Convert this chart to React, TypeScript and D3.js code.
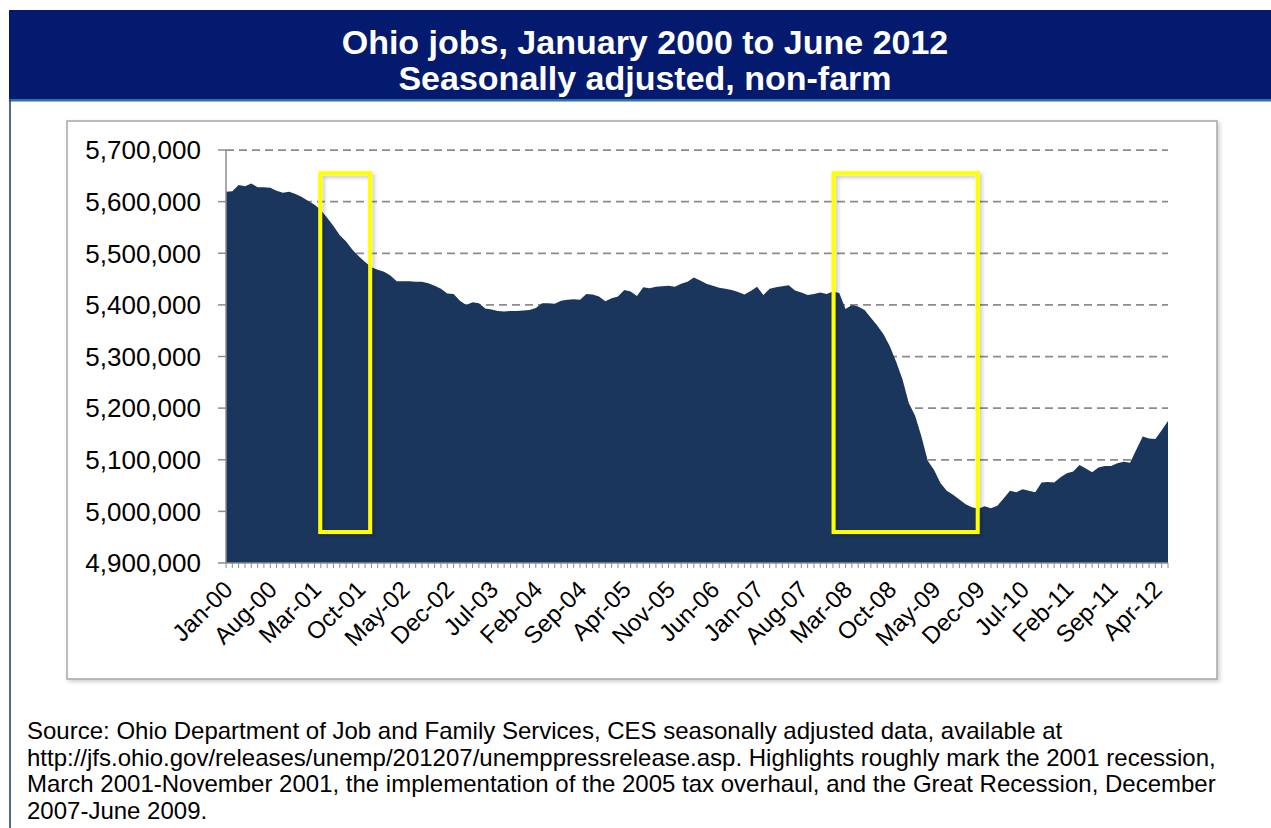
import React from "react";
import * as d3 from "d3";

const jobs: number[] = [
  5619000, 5620000, 5632000, 5630000, 5635000, 5628000, 5628000, 5627000, 5621000, 5617000,
  5619000, 5615000, 5609000, 5601000, 5594000, 5584000, 5569000, 5553000, 5535000, 5523000,
  5507000, 5494000, 5483000, 5473000, 5468000, 5464000, 5457000, 5446000, 5446000, 5446000,
  5445000, 5445000, 5442000, 5437000, 5431000, 5422000, 5421000, 5408000, 5400000, 5405000,
  5403000, 5393000, 5391000, 5388000, 5387000, 5388000, 5388000, 5389000, 5390000, 5394000,
  5403000, 5403000, 5402000, 5408000, 5410000, 5411000, 5410000, 5421000, 5420000, 5416000,
  5407000, 5413000, 5416000, 5429000, 5426000, 5417000, 5434000, 5432000, 5435000, 5436000,
  5437000, 5435000, 5441000, 5445000, 5453000, 5447000, 5441000, 5437000, 5433000, 5431000,
  5429000, 5425000, 5420000, 5427000, 5435000, 5419000, 5431000, 5434000, 5436000, 5438000,
  5428000, 5424000, 5419000, 5421000, 5424000, 5421000, 5426000, 5423000, 5392000, 5400000,
  5397000, 5390000, 5375000, 5360000, 5343000, 5320000, 5290000, 5256000, 5210000, 5185000,
  5145000, 5098000, 5080000, 5055000, 5040000, 5032000, 5023000, 5014000, 5008000, 5005000,
  5010000, 5006000, 5011000, 5025000, 5040000, 5037000, 5043000, 5040000, 5037000, 5056000,
  5057000, 5056000, 5066000, 5074000, 5077000, 5090000, 5083000, 5076000, 5085000, 5088000,
  5088000, 5093000, 5096000, 5094000, 5120000, 5145000, 5141000, 5140000, 5157000, 5175000,
];

const xTickLabels: string[] = [
  "Jan-00", "Aug-00", "Mar-01", "Oct-01", "May-02", "Dec-02", "Jul-03", "Feb-04",
  "Sep-04", "Apr-05", "Nov-05", "Jun-06", "Jan-07", "Aug-07", "Mar-08", "Oct-08",
  "May-09", "Dec-09", "Jul-10", "Feb-11", "Sep-11", "Apr-12",
];
const labelStep = 7;

const yTicks: number[] = [4900000, 5000000, 5100000, 5200000, 5300000, 5400000, 5500000, 5600000, 5700000];

// highlight spans in month index (0 = Jan-00)
const highlightBoxes: [number, number][] = [
  [14.9, 22.8],
  [96.1, 118.9],
];
const highlightLines: number[] = [68.2];
const highlightRange: [number, number] = [4960000, 5655000];

const titleLines: string[] = ["Ohio jobs, January 2000 to June 2012", "Seasonally adjusted, non-farm"];
const sourceLines: string[] = [
  "Source: Ohio Department of Job and Family Services, CES seasonally adjusted data, available at",
  "http://jfs.ohio.gov/releases/unemp/201207/unemppressrelease.asp. Highlights roughly mark the 2001 recession,",
  "March 2001-November 2001, the implementation of the 2005 tax overhaul, and the Great Recession, December",
  "2007-June 2009.",
];

const W = 1271;
const H = 828;
const plotLeft = 226;
const plotRight = 1168;
const plotTop = 150;
const plotBottom = 563;

export default function App() {
  const x = d3.scaleLinear().domain([0, jobs.length - 1]).range([plotLeft, plotRight]);
  const y = d3.scaleLinear().domain([4900000, 5700000]).range([plotBottom, plotTop]);
  const fmt = d3.format(",");

  const area = d3
    .area<number>()
    .x((_, i) => x(i))
    .y0(plotBottom)
    .y1((d) => y(d));

  const font = "Arial, 'Liberation Sans', Helvetica, sans-serif";

  return (
    <svg
      width={W}
      height={H}
      style={{ position: "absolute", left: 0, top: 0, background: "#fff" }}
      fontFamily={font}
    >
      <defs>
        <filter id="ysh" x="-20%" y="-20%" width="140%" height="140%">
          <feDropShadow dx="2" dy="2" stdDeviation="2" floodColor="#000" floodOpacity="0.25" />
        </filter>
        <filter id="boxsh" x="-5%" y="-5%" width="110%" height="110%">
          <feDropShadow dx="2" dy="2" stdDeviation="2" floodColor="#000" floodOpacity="0.2" />
        </filter>
      </defs>

      {/* Banner */}
      <rect x={9} y={10} width={W - 9} height={89} fill="#041a6e" />
      <rect x={9} y={99} width={W - 9} height={2.5} fill="#2f6fb0" />
      <line x1={10} x2={10} y1={100} y2={H} stroke="#1a2f7a" strokeWidth={1.5} />
      {titleLines.map((t, i) => (
        <text
          key={t}
          x={645}
          y={54 + i * 36}
          textAnchor="middle"
          fill="#fff"
          fontWeight="bold"
          fontSize={34}
        >
          {t}
        </text>
      ))}

      {/* Chart frame */}
      <rect x={67} y={121} width={1150} height={558} fill="#fff" stroke="#a6a6a6" strokeWidth={1.5} filter="url(#boxsh)" />

      {/* Gridlines */}
      {yTicks.slice(1).map((t) => (
        <line
          key={t}
          x1={plotLeft}
          x2={plotRight}
          y1={y(t)}
          y2={y(t)}
          stroke="#8c8c8c"
          strokeWidth={1.75}
          strokeDasharray="8,5"
        />
      ))}

      {/* Area */}
      <path d={area(jobs) || ""} fill="#1b365d" />

      {/* Axes */}
      <line x1={plotLeft} x2={plotLeft} y1={plotTop} y2={plotBottom} stroke="#8c8c8c" strokeWidth={1.5} />
      <line x1={plotLeft} x2={plotRight} y1={plotBottom} y2={plotBottom} stroke="#8c8c8c" strokeWidth={1.5} />
      {yTicks.map((t) => (
        <g key={t}>
          <line x1={plotLeft - 8} x2={plotLeft} y1={y(t)} y2={y(t)} stroke="#8c8c8c" strokeWidth={1.5} />
          <text x={201} y={y(t)} dy="0.36em" textAnchor="end" fontSize={26} fill="#000">
            {fmt(t)}
          </text>
        </g>
      ))}
      {jobs.map((_, i) => (
        <line
          key={i}
          x1={x(i)}
          x2={x(i)}
          y1={plotBottom}
          y2={plotBottom + 5}
          stroke="#8c8c8c"
          strokeWidth={1}
        />
      ))}
      {xTickLabels.map((lab, k) => {
        const xi = x(k * labelStep);
        return (
          <text
            key={lab}
            transform={`translate(${xi + 2},${plotBottom + 22}) rotate(-45)`}
            textAnchor="end"
            dy="0.36em"
            fontSize={24}
            fill="#000"
          >
            {lab}
          </text>
        );
      })}

      {/* Highlights */}
      {highlightBoxes.map(([a, b], i) => (
        <rect
          key={i}
          x={x(a)}
          y={y(highlightRange[1])}
          width={x(b) - x(a)}
          height={y(highlightRange[0]) - y(highlightRange[1])}
          fill="none"
          stroke="#ffff00"
          strokeWidth={4}
          filter="url(#ysh)"
        />
      ))}
      {highlightLines.map((a, i) => (
        <line
          key={i}
          x1={x(a)}
          x2={x(a)}
          y1={y(highlightRange[1])}
          y2={y(highlightRange[0])}
          stroke="#ffff00"
          strokeWidth={4}
          filter="url(#ysh)"
        />
      ))}

      {/* Source */}
      {sourceLines.map((t, i) => (
        <text key={i} x={27} y={739 + i * 26.5} fontSize={24} fill="#000">
          {t}
        </text>
      ))}
    </svg>
  );
}
